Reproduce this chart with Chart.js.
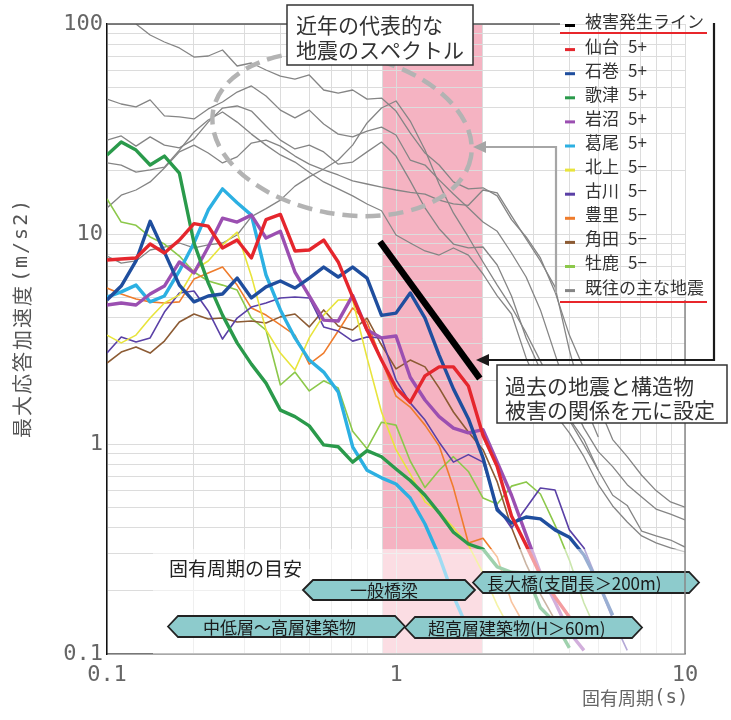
<!DOCTYPE html>
<html lang="ja">
<head>
<meta charset="utf-8">
<title>最大応答加速度スペクトル</title>
<script src="https://cdn.jsdelivr.net/npm/chart.js@4.4.1/dist/chart.umd.min.js"></script>
<style>
  html, body { margin: 0; padding: 0; background: #fff; }
  #wrap { position: relative; width: 731px; height: 720px; }
</style>
</head>
<body>
<div id="wrap"><canvas id="spectrum-chart"></canvas></div>
<script>
// Natural periods (s), shared by every series
const periods = [0.1, 0.112, 0.126, 0.141, 0.158, 0.178, 0.2, 0.224, 0.251, 0.282,
  0.316, 0.355, 0.398, 0.447, 0.501, 0.562, 0.631, 0.708, 0.794, 0.891,
  1, 1.12, 1.26, 1.41, 1.58, 1.78, 2, 2.24, 2.51, 2.82,
  3.16, 3.55, 3.98, 4.47, 5.01, 5.62, 6.31, 7.08, 7.94, 8.91, 10];

// Max response acceleration (m/s2) per station
const sendai = [7.52, 7.6, 7.69, 8.96, 8.12, 9.36, 11.2, 10.9, 8.58, 9.36, 7.69, 11.7, 12.4, 8.3, 8.39, 9.36, 7.36, 5.01, 3.49, 2.51, 1.85, 1.58, 2.11, 2.33, 2.33, 1.89, 1.10, 0.78, 0.454, 0.33, 0.238, 0.187, 0.15, 0.122];
const ishinomaki = [4.85, 5.65, 7.44, 11.5, 8.2, 5.71, 4.75, 5.07, 5.18, 6.17, 4.96, 5.6, 5.97, 5.53, 6.17, 6.96, 6.24, 6.96, 6.17, 4.1, 4.2, 5.24, 3.98, 2.65, 1.83, 1.32, 0.86, 0.485, 0.42, 0.449, 0.44, 0.39, 0.36, 0.296, 0.218, 0.153];
const utatsu = [23.8, 27.4, 25.1, 21.3, 23.5, 19.5, 9.06, 5.85, 4.11, 3.03, 2.40, 1.95, 1.45, 1.35, 1.22, 0.99, 0.97, 0.82, 0.93, 0.87, 0.76, 0.67, 0.57, 0.47, 0.38, 0.334, 0.316, 0.26, 0.245, 0.243, 0.166, 0.141, 0.107];
const iwanuma = [4.59, 4.69, 4.59, 5.18, 5.65, 7.36, 6.52, 8.67, 11.9, 11.4, 12.3, 9.57, 10.3, 6.59, 5.07, 3.89, 3.85, 5.1, 3.49, 3.2, 3.27, 2.08, 1.62, 1.35, 1.19, 1.13, 1.17, 0.82, 0.57, 0.369, 0.243, 0.177, 0.127, 0.104];
const katsurao = [5.01, 5.3, 5.71, 4.75, 5.07, 6.67, 9.06, 13, 16.4, 14.1, 12.3, 6.38, 4.35, 3.2, 2.51, 2.2, 1.77, 0.97, 0.75, 0.69, 0.645, 0.553, 0.416, 0.293, 0.189, 0.13];
const kitakami = [3.3, 3.03, 3.3, 3.98, 4.69, 5.13, 6.74, 7.44, 8.87, 10.2, 6.3, 3.49, 2.71, 2.25, 3.2, 4.11, 4.85, 4.85, 2.57, 1.42, 0.94, 0.72, 0.53, 0.474, 0.40, 0.33, 0.243, 0.171, 0.127];
const furukawa = [2.71, 3.23, 3.06, 3.2, 4.25, 5.24, 5.35, 4.3, 3.16, 3.98, 4.49, 4.69, 4.96, 5.01, 4.96, 3.61, 3.45, 3.09, 3.23, 3.2, 2.02, 1.57, 1.3, 1.02, 0.82, 0.89, 0.82, 0.5, 0.398, 0.496, 0.617, 0.604, 0.39, 0.32, 0.218, 0.147, 0.104];
const toyosato = [5.53, 5.18, 4.9, 4.75, 4.69, 4.75, 6.1, 6.52, 6.96, 5.71, 4.44, 4.11, 3.69, 3.3, 2.4, 2.71, 3.45, 4.44, 3.81, 2.51, 1.69, 1.5, 1.23, 0.98, 0.62, 0.338, 0.356, 0.29, 0.177, 0.133, 0.117];
const kakuda = [2.43, 2.74, 2.9, 2.71, 3.09, 3.81, 4.16, 3.94, 3.98, 3.81, 3.85, 3.77, 4.03, 4.16, 3.61, 4.35, 3.65, 3.49, 3.98, 2.96, 2.28, 2.51, 2.33, 1.85, 1.42, 1.14, 0.94, 0.66, 0.4, 0.268, 0.193, 0.145, 0.122];
const oshika = [14.7, 11.4, 11.0, 9.68, 8.96, 7.85, 6.59, 5.97, 5.71, 5.41, 3.98, 3.49, 1.91, 2.2, 1.79, 2.0, 1.85, 1.15, 0.95, 1.27, 1.23, 0.83, 0.62, 0.75, 0.87, 0.74, 0.553, 0.518, 0.63, 0.66, 0.578, 0.411, 0.28, 0.175, 0.123];

// Past major earthquakes (gray)
const pastA = [null, null, 100, 88.6, 82.1, 76.9, 69.6, 70.4, 75.2, 63.1, 65.2, 60.4, 56.5, 54.7, 57.2, 48.5, 46.9, 48.5, 43.9, 44.4, 38.5, 30.3, 24.3, 21.3, 17.7, 16.4, 16.6, 15.2, 11.7, 9.68, 7.69, 5.3, 3.3, 2.28, 1.53, 1.05, 0.87, 0.71, 0.6, 0.53, 0.5];
const pastB = [43.9, 41.6, 40.3, 43.5, 36.5, 36.1, 35.3, 39.4, 42.5, 47.4, 50.7, 45.4, 38.9, 35.7, 38.9, 33.4, 29.9, 29, 30.9, 32.3, 29.6, 22.5, 21.3, 18.1, 15.5, 13.3, 11.4, 10.3, 8.12, 6.24, 4.35, 2.68, 1.67, 1.19, 0.92, 0.78, 0.64, 0.56, 0.49, 0.464, 0.435];
const pastC = [28, 29.3, 26.2, 29, 26.5, 25.7, 28.3, 34.1, 39.8, 40.7, 38.5, 32.7, 28, 25.4, 26.5, 24.6, 21.5, 22, 24.6, 27.4, 23.5, 17.9, 13.3, 10.6, 8.96, 8.58, 8.67, 7.12, 5.07, 3.2, 2.25, 1.75, 1.32, 1.05, 0.75, 0.57, 0.51, 0.385, 0.365, 0.349, 0.323];
const pastD = [21.8, 21.3, 19.7, 20.2, 20.8, 25.1, 30.6, 34.9, 38.1, 34.1, 29.9, 26.5, 23.8, 22, 19.7, 17.7, 16.4, 15.2, 13.9, 12.9, 9.89, 9.06, 8.3, 7.94, 8.58, 7.94, 6.45, 5.07, 4.16, 2.57, 1.79, 1.39, 1.13, 0.87, 0.64, 0.507, 0.425, 0.365, 0.338, 0.32, 0.306];
const pastE = [13.3, 15.3, 16.2, 17.7, 20.6, 24.6, 26.5, 24.3, 21.8, 23.3, 27.1, 28, 26.2, 23.5, 21.5, 20.2, 19.1, 17.9, 17.3, 16.7, 16.2, 15.8, 15.5, 14.5, 13.9, 13.7, 16.2, 15.7, 12.2, 9.47, 7.44, 5.6, 2.8, 1.57, 1.08];
const pastF = [7.85, 7.27, 7.44, 8.39, 8.67, 9.06, 8.58, 8.87, 9.06, 9.89, 12.1, 13.2, 14.5, 16.9, 18.7, 20.4, 22.5, 26.5, 33.8, 39.8, 43, 34.5, 25.1, 17.3, 12.6, 9.68, 7.36, 5.71, 4.49, 3.38, 2.48, 1.81, 1.3, 0.99, 0.75];

// Damage occurrence line (period s, acceleration m/s2)
const damagePeriods = [0.88, 1.95];
const damageValues = [9.2, 2.05];

// Natural-period band highlighted in pink
const bandPeriods = [0.9, 2.0];

// Axis ticks
const xGridValues = [0.1, 0.2, 0.3, 0.4, 0.5, 0.6, 0.7, 0.8, 0.9, 1, 2, 3, 4, 5, 6, 7, 8, 9, 10];
const yGridValues = [0.1, 0.2, 0.3, 0.4, 0.5, 0.6, 0.7, 0.8, 0.9, 1, 2, 3, 4, 5, 6, 7, 8, 9, 10, 20, 30, 40, 50, 60, 70, 80, 90, 100];
const xTickLabels = ['0.1', '1', '10'];
const yTickLabels = ['0.1', '1', '10', '100'];

const JP_FONT = "'Noto Sans CJK JP', 'Noto Sans', sans-serif";
const MONO_FONT = "'DejaVu Sans Mono', monospace";

// Station list (legend order)
const stations = [
  { name: '仙台', grade: '5+', color: '#e5262d', width: 3.4, values: sendai },
  { name: '石巻', grade: '5+', color: '#1f4e9e', width: 3.4, values: ishinomaki },
  { name: '歌津', grade: '5+', color: '#2a9a4b', width: 3.4, values: utatsu },
  { name: '岩沼', grade: '5+', color: '#9b4fb1', width: 3.4, values: iwanuma },
  { name: '葛尾', grade: '5+', color: '#2cb0e2', width: 3.4, values: katsurao },
  { name: '北上', grade: '5−', color: '#e8e43c', width: 1.6, values: kitakami },
  { name: '古川', grade: '5−', color: '#5a40a6', width: 1.6, values: furukawa },
  { name: '豊里', grade: '5−', color: '#ef7c2c', width: 1.6, values: toyosato },
  { name: '角田', grade: '5−', color: '#8c5b34', width: 1.6, values: kakuda },
  { name: '牡鹿', grade: '5−', color: '#8cc84a', width: 1.6, values: oshika }
];
const pastQuakes = [pastA, pastB, pastC, pastD, pastE, pastF];
const GRAY = '#858585';

// Build {x, y} points from a value list
function toPoints(values, xs = periods) {
  const pts = [];
  values.forEach((v, i) => {
    if (v !== null && v !== undefined) pts.push({ x: xs[i], y: v });
  });
  return pts;
}

// Datasets: the first one is drawn on top
const datasets = [{
  label: '被害発生ライン',
  data: toPoints(damageValues, damagePeriods),
  borderColor: '#000',
  borderWidth: 6.5,
  borderCapStyle: 'butt'
}];
stations.filter(s => s.width > 2).forEach(s => datasets.push({
  label: s.name, data: toPoints(s.values), borderColor: s.color, borderWidth: s.width
}));
stations.filter(s => s.width <= 2).forEach(s => datasets.push({
  label: s.name, data: toPoints(s.values), borderColor: s.color, borderWidth: s.width
}));
pastQuakes.forEach(v => datasets.push({
  label: '既往の主な地震', data: toPoints(v), borderColor: GRAY, borderWidth: 1.3
}));

// Helpers for the drawing plugin
function hexLabel(ctx, xl, xr, yt, yb, text, textX) {
  const d = 10, ym = (yt + yb) / 2;
  ctx.beginPath();
  ctx.moveTo(xl, ym);
  ctx.lineTo(xl + d, yt);
  ctx.lineTo(xr - d, yt);
  ctx.lineTo(xr, ym);
  ctx.lineTo(xr - d, yb);
  ctx.lineTo(xl + d, yb);
  ctx.closePath();
  ctx.fillStyle = '#8dcbcc';
  ctx.fill();
  ctx.lineWidth = 1.8;
  ctx.strokeStyle = '#222';
  ctx.stroke();
  ctx.fillStyle = '#1a1a1a';
  ctx.font = '17px ' + JP_FONT;
  ctx.textBaseline = 'middle';
  ctx.textAlign = 'left';
  ctx.fillText(text, textX, ym + 1);
}

function textBox(ctx, x, y, w, h, lines, tx, lineYs) {
  ctx.fillStyle = '#fff';
  ctx.fillRect(x, y, w, h);
  ctx.lineWidth = 1.5;
  ctx.strokeStyle = '#333';
  ctx.strokeRect(x, y, w, h);
  ctx.fillStyle = '#333';
  ctx.font = '21px ' + JP_FONT;
  ctx.textAlign = 'left';
  ctx.textBaseline = 'middle';
  lines.forEach((t, i) => ctx.fillText(t, tx, lineYs[i]));
}

function leftArrow(ctx, pts, tipX, tipY, color) {
  ctx.strokeStyle = color;
  ctx.fillStyle = color;
  ctx.lineWidth = 2.2;
  ctx.beginPath();
  pts.forEach((p, i) => i ? ctx.lineTo(p[0], p[1]) : ctx.moveTo(p[0], p[1]));
  ctx.stroke();
  ctx.beginPath();
  ctx.moveTo(tipX, tipY);
  ctx.lineTo(tipX + 13, tipY - 6);
  ctx.lineTo(tipX + 13, tipY + 6);
  ctx.closePath();
  ctx.fill();
}

const annotations = {
  id: 'annotations',
  beforeDraw(chart) {
    const { ctx, chartArea, scales: { x } } = chart;
    const x1 = x.getPixelForValue(bandPeriods[0]);
    const x2 = x.getPixelForValue(bandPeriods[1]);
    ctx.save();
    ctx.fillStyle = '#f5b3c2';
    ctx.fillRect(x1, chartArea.top, x2 - x1, chartArea.bottom - chartArea.top);
    ctx.restore();
  },
  afterDatasetsDraw(chart) {
    const { ctx, chartArea, scales: { y } } = chart;
    ctx.save();
    // pale veil behind the period guide
    const veilTop = y.getPixelForValue(0.316);
    ctx.fillStyle = 'rgba(255,255,255,0.55)';
    ctx.fillRect(153, veilTop, chartArea.right - 153, chartArea.bottom - veilTop);

    ctx.fillStyle = '#222';
    ctx.font = '19px ' + JP_FONT;
    ctx.textBaseline = 'middle';
    ctx.fillText('固有周期の目安', 169, 569);

    hexLabel(ctx, 303, 475, 580, 600, '一般橋梁', 350);
    hexLabel(ctx, 473, 699, 572, 593, '長大橋(支間長＞200m)', 487);
    hexLabel(ctx, 168, 405, 616, 637, '中低層～高層建築物', 203);
    hexLabel(ctx, 405, 642, 617, 638, '超高層建築物(H＞60m)', 428);

    // dashed ellipse around recent spectra
    ctx.setLineDash([15, 8]);
    ctx.lineWidth = 4.5;
    ctx.strokeStyle = '#b3b3b3';
    ctx.beginPath();
    ctx.ellipse(342, 134, 131, 80, 0.18, 0, Math.PI * 2);
    ctx.stroke();
    ctx.setLineDash([]);
    ctx.restore();
  },
  afterDraw(chart) {
    const { ctx, chartArea } = chart;
    ctx.save();
    // frame lines
    ctx.strokeStyle = '#555';
    ctx.lineWidth = 1.5;
    ctx.beginPath();
    ctx.moveTo(chartArea.left, chartArea.top);
    ctx.lineTo(560, chartArea.top);
    ctx.stroke();
    ctx.strokeStyle = '#888';
    ctx.beginPath();
    ctx.moveTo(chartArea.right, 300);
    ctx.lineTo(chartArea.right, chartArea.bottom);
    ctx.stroke();

    textBox(ctx, 287, 5, 186, 60, ['近年の代表的な', '地震のスペクトル'], 296, [25, 50]);
    textBox(ctx, 497, 365, 230, 58, ['過去の地震と構造物', '被害の関係を元に設定'], 505, [386, 410]);

    leftArrow(ctx, [[556, 293], [556, 147], [484, 147]], 473, 147, '#a6a6a6');
    leftArrow(ctx, [[714, 23], [714, 360], [488, 360]], 476, 360, '#1a1a1a');

    // legend
    const rows = [{ name: '被害発生ライン', grade: '', color: '#000' }]
      .concat(stations)
      .concat([{ name: '既往の主な地震', grade: '', color: GRAY }]);
    ctx.font = '17px ' + JP_FONT;
    ctx.textBaseline = 'middle';
    rows.forEach((r, i) => {
      const cy = 22 + i * 24.1;
      ctx.fillStyle = r.color;
      ctx.fillRect(565, cy + 2, 10, 3);
      ctx.fillStyle = '#333';
      ctx.fillText(r.name, 585, cy);
      if (r.grade) ctx.fillText(r.grade, 628, cy);
    });
    ctx.strokeStyle = '#e8262b';
    ctx.lineWidth = 2;
    [33, 302].forEach(yy => {
      ctx.beginPath();
      ctx.moveTo(560, yy);
      ctx.lineTo(707, yy);
      ctx.stroke();
    });

    // axis titles (CJK part + monospace unit part)
    ctx.fillStyle = '#666';
    ctx.textAlign = 'left';
    ctx.font = '18px ' + JP_FONT;
    ctx.fillText('固有周期', 582, 698);
    ctx.font = '19px ' + MONO_FONT;
    ctx.fillText('(s)', 654, 698);

    ctx.translate(22, 438);
    ctx.rotate(-Math.PI / 2);
    ctx.fillStyle = '#555';
    ctx.letterSpacing = '2px';
    ctx.font = '20px ' + JP_FONT;
    ctx.fillText('最大応答加速度', 0, 0);
    const w = ctx.measureText('最大応答加速度').width;
    ctx.font = '20px ' + MONO_FONT;
    ctx.fillText('(m/s2)', w + 2, 0);
    ctx.restore();
  }
};

// Initialize Chart
const ctx = document.getElementById('spectrum-chart').getContext('2d');
const spectrumChart = new Chart(ctx, {
  type: 'line',
  data: { datasets },
  options: {
    responsive: true,
    maintainAspectRatio: false,
    animation: false,
    devicePixelRatio: 1,
    layout: { padding: { top: 24, right: 46, left: 0, bottom: 0 } },
    elements: {
      point: { radius: 0 },
      line: { tension: 0, borderJoinStyle: 'round', fill: false }
    },
    plugins: { legend: { display: false }, tooltip: { enabled: false } },
    scales: {
      x: {
        type: 'logarithmic',
        min: 0.1,
        max: 10,
        afterBuildTicks: (scale) => { scale.ticks = xGridValues.map(v => ({ value: v })); },
        afterFit: (scale) => { scale.height = 66; },
        grid: { color: '#dcdcdc', lineWidth: 1, drawTicks: false },
        border: { color: '#777', width: 1.5 },
        ticks: {
          autoSkip: false, maxRotation: 0, padding: 8, color: '#666',
          font: { family: 'DejaVu Sans Mono', size: 22 },
          callback: (v) => xTickLabels.includes(String(v)) ? String(v) : ''
        }
      },
      y: {
        type: 'logarithmic',
        min: 0.1,
        max: 100,
        afterBuildTicks: (scale) => { scale.ticks = yGridValues.map(v => ({ value: v })); },
        afterFit: (scale) => { scale.width = 107; },
        grid: { color: '#dcdcdc', lineWidth: 1, drawTicks: false },
        border: { color: '#111', width: 1.5 },
        ticks: {
          autoSkip: false, padding: 4, color: '#666',
          font: { family: 'DejaVu Sans Mono', size: 22 },
          callback: (v) => yTickLabels.includes(String(v)) ? String(v) : ''
        }
      }
    }
  },
  plugins: [annotations]
});
</script>
</body>
</html>
